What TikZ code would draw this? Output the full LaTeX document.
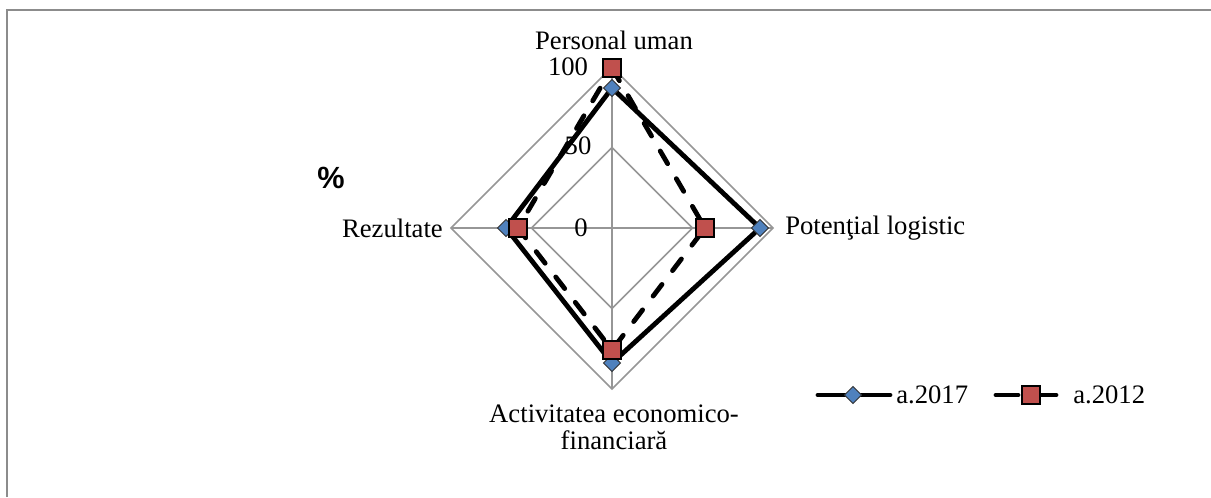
\documentclass[tikz,border=0pt]{standalone}
\usepackage{fontspec}
\setmainfont{Liberation Serif}
\newfontfamily\arialfont{Liberation Sans}
\usetikzlibrary{shapes.geometric}
\definecolor{gridgray}{HTML}{969696}
\definecolor{framegray}{HTML}{8C8C8C}
\definecolor{mblue}{HTML}{4F81BD}
\definecolor{mred}{HTML}{C0504D}
\tikzset{
  gridline/.style={draw=gridgray,line width=1.1pt},
  serline/.style={draw=black,line width=3.6pt,line join=round,line cap=round},
  dashline/.style={serline,dash pattern=on 11pt off 13pt},
  dmark/.style={diamond,draw=black!80,fill=mblue,line width=0.6pt,inner sep=0pt,minimum width=13pt,minimum height=13pt},
  smark/.style={rectangle,draw=black,fill=mred,line width=0.8pt,inner sep=0pt,minimum size=13.5pt},
  lbl/.style={font=\fontsize{20}{20.3}\selectfont,inner sep=0pt},
}
\begin{document}
\begin{tikzpicture}[x=0.75pt,y=-0.75pt]
\useasboundingbox (0,0) rectangle (1211,497);
\fill[white] (0,0) rectangle (1211,497);
\draw[framegray,line width=1.6pt] (7,497) -- (7,10) -- (1211,10);
% grid
\coordinate (C) at (612,228);
\coordinate (T) at (612,67);
\coordinate (R) at (773,228);
\coordinate (B) at (612,389);
\coordinate (L) at (451,228);
\coordinate (T5) at (612,147.5);
\coordinate (R5) at (692.5,228);
\coordinate (B5) at (612,308.5);
\coordinate (L5) at (531.5,228);
\draw[gridline] (T) -- (R) -- (B) -- (L) -- cycle;
\draw[gridline] (T5) -- (R5) -- (B5) -- (L5) -- cycle;
\draw[gridline] (C) -- (T) (C) -- (R) (C) -- (B) (C) -- (L);
% axis values
\node[lbl] (v100) at (568,67) {100};
\node[lbl] (v50) at (578,146) {50};
\node[lbl] (v0) at (581,228) {0};
% category labels
\node[lbl] (cpu) at (614,40) {Personal uman};
\node[lbl,anchor=west] (cpl) at (785,228) {Potenţial logistic};
\node[lbl,anchor=east] (crz) at (443,228) {Rezultate};
\node[lbl,align=center] (cae) at (614,427) {Activitatea economico-\\financiară};
\node[font=\arialfont\bfseries\fontsize{23}{26}\selectfont,inner sep=0pt] (pct) at (331,178) {\%};
% series 2017
\coordinate (a1) at (612,88);
\coordinate (a2) at (760,228);
\coordinate (a3) at (612,363);
\coordinate (a4) at (506,228);
\draw[serline] (a1) -- (a2) -- (a3) -- (a4) -- cycle;
% series 2012
\coordinate (b1) at (612,68);
\coordinate (b2) at (705,228);
\coordinate (b3) at (612,350);
\coordinate (b4) at (518,228);
\draw[dashline] (b1) -- (b2) -- (b3) -- (b4) -- cycle;
\foreach \p in {a1,a2,a3,a4} \node[dmark] at (\p) {};
\foreach \p in {b1,b2,b3,b4} \node[smark] at (\p) {};
% legend
\coordinate (la1) at (818,395);
\coordinate (la2) at (890,395);
\draw[serline] (la1) -- (la2);
\node[dmark] (lam) at (853,395) {};
\node[lbl,anchor=west] (lat) at (896,395) {a.2017};
\coordinate (lb1) at (996,395);
\coordinate (lb2) at (1018,395);
\coordinate (lb3) at (1036,395);
\coordinate (lb4) at (1056,395);
\draw[serline] (lb1) -- (lb2);
\draw[serline] (lb3) -- (lb4);
\node[smark] (lbm) at (1031,395) {};
\node[lbl,anchor=west] (lbt) at (1073,395) {a.2012};
\end{tikzpicture}
\end{document}
